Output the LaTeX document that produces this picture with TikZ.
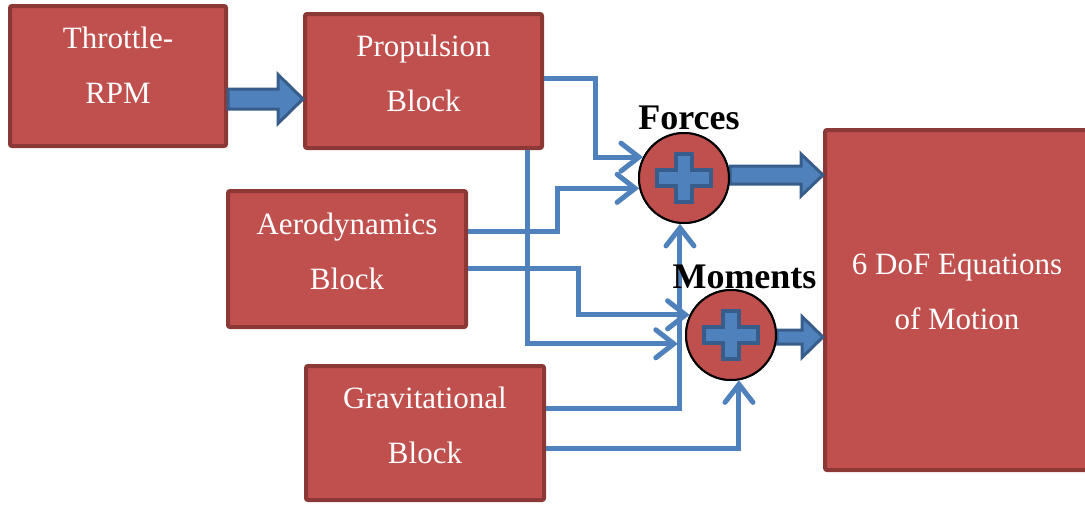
\documentclass[tikz,border=0pt]{standalone}
\usepackage{fontspec}
\setmainfont{Liberation Serif}
\usetikzlibrary{arrows.meta,calc}
\definecolor{boxred}{HTML}{C0504D}
\definecolor{boxborder}{HTML}{8C3836}
\definecolor{lblue}{HTML}{4F81BD}
\definecolor{dblue}{HTML}{385D8A}
\tikzset{
 blockbox/.style={draw=boxborder, fill=boxred, line width=4pt, rounded corners=2pt, text=white, align=center, font=\fontsize{31}{55}\selectfont, text depth=16pt, inner sep=0pt},
 sumnode/.style={circle, draw=black, fill=boxred, line width=2pt, minimum size=90pt, inner sep=0pt},
 conn/.style={draw=lblue, line width=5pt, -{Straight Barb[length=18pt,width=28pt,line cap=round]}},
 barrow/.style={draw=dblue, fill=lblue, line width=3pt, line join=miter},
 pluss/.style={draw=dblue, fill=lblue, line width=3.5pt},
 sumlabel/.style={font=\bfseries\fontsize{36}{40}\selectfont, anchor=base, inner sep=0pt},
}
\newcommand\blockarrow[5]{%
 \draw[barrow] ($(#1)+(0,-#3)$) -- ($(#2)+(-#5,-#3)$) -- ($(#2)+(-#5,-#4)$) -- (#2) -- ($(#2)+(-#5,#4)$) -- ($(#2)+(-#5,#3)$) -- ($(#1)+(0,#3)$) -- cycle;}
\newcommand\plusmark[1]{%
 \begin{scope}[shift={(#1)}]
 \draw[pluss] (-8,-24) -- (8,-24) -- (8,-8) -- (27,-8) -- (27,8) -- (8,8) -- (8,24) -- (-8,24) -- (-8,8) -- (-27,8) -- (-27,-8) -- (-8,-8) -- cycle;
 \end{scope}}
\begin{document}
\begin{tikzpicture}[x=1pt,y=-1pt]
\useasboundingbox (0,0) rectangle (1085,504);
% blocks
\node[blockbox, minimum width=216pt, minimum height=140pt, text depth=22pt] (thr) at (118,76) {Throttle-\\RPM};
\node[blockbox, minimum width=237pt, minimum height=134pt] (prop) at (423.5,81) {Propulsion\\Block};
\node[blockbox, minimum width=238pt, minimum height=136pt] (aero) at (347,259) {Aerodynamics\\Block};
\node[blockbox, minimum width=238pt, minimum height=134pt] (grav) at (425,433) {Gravitational\\Block};
\node[blockbox, minimum width=264pt, minimum height=340pt] (dof) at (957,300) {6 DoF Equations\\of Motion};
% helper coordinates
\coordinate (ya) at (0,99);
\coordinate (yb) at (0,175);
\coordinate (yc) at (0,337);
\coordinate (y78) at (0,78);
\coordinate (y231) at (0,231);
\coordinate (y268) at (0,268);
\coordinate (y408) at (0,408);
\coordinate (y448) at (0,448);
\coordinate (x595) at (595,0);
\coordinate (x557) at (557,0);
\coordinate (x578) at (578,0);
\coordinate (x527) at (527,0);
% summing junctions
\node[sumnode] (forces) at (684,178) {};
\node[sumnode] (moments) at (731,335) {};
% block arrows
\coordinate (a1s) at (thr.east |- ya);
\coordinate (a1t) at (prop.west |- ya);
\coordinate (a2s) at (forces.east |- yb);
\coordinate (a2t) at (dof.west |- yb);
\coordinate (a3s) at (moments.east |- yc);
\coordinate (a3t) at (dof.west |- yc);
\blockarrow{a1s}{a1t}{10}{24.5}{25}
\blockarrow{a2s}{a2t}{9}{21}{22}
\blockarrow{a3s}{a3t}{7}{20.5}{21}
% redraw circles on top of arrow starts
\node[sumnode] at (forces) {};
\node[sumnode] at (moments) {};
\plusmark{forces.center}
\plusmark{moments.center}
% connectors
\draw[conn] (prop.east |- y78) -| (x595 |- forces.153) -- (forces.153);
\draw[conn] (aero.east |- y231) -| (x557 |- forces.193) -- (forces.193);
\draw[conn] (aero.east |- y268) -| (x578 |- moments.154) -- (moments.154);
\draw[conn, shorten >=8pt] (prop.south -| x527) |- (moments.191);
\draw[conn] (grav.east |- y408) -| (forces.265);
\draw[conn] (grav.east |- y448) -| (moments.280);
% labels
\node[sumlabel] (flab) at (689,129) {Forces};
\node[sumlabel] (mlab) at (744.5,288) {Moments};
\end{tikzpicture}
\end{document}
